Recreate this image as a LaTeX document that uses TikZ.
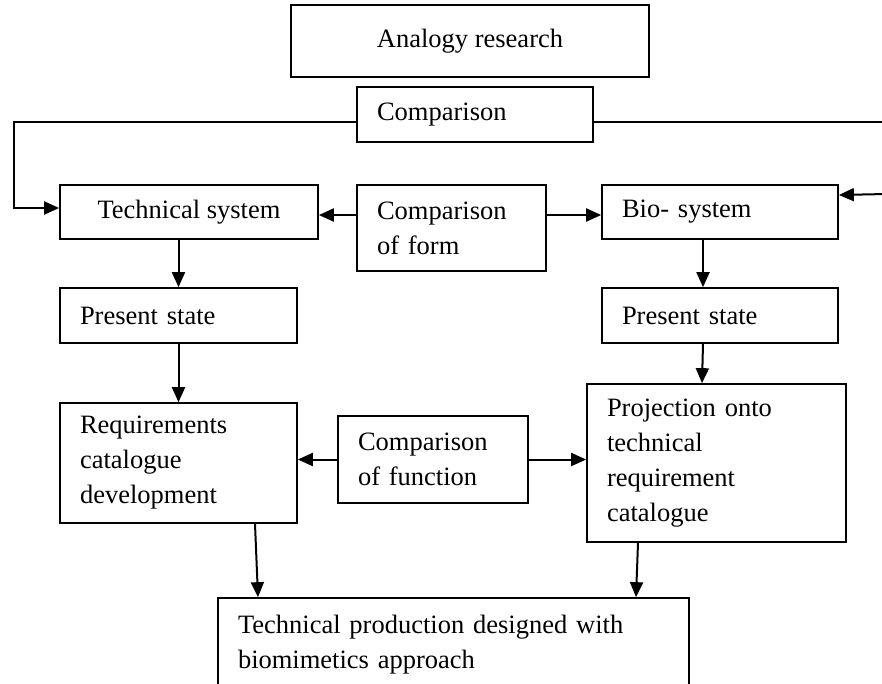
\documentclass[tikz,border=0pt]{standalone}
\usepackage{fontspec}
\setmainfont{Liberation Serif}
\usetikzlibrary{arrows.meta}
\begin{document}
\begin{tikzpicture}[x=1pt,y=-1pt,
  box/.style={draw, fill=white, line width=1.7pt, inner xsep=20pt, inner ysep=4pt,
    font=\fontsize{26.5}{35}\selectfont},
  lbox/.style={box, align=left},
  cbox/.style={box, align=center},
  conn/.style={line width=2pt},
  arr/.style={conn, -{Triangle[length=15pt,width=13pt]}}]
\useasboundingbox (0,0) rectangle (882,683);
% boxes
\node[cbox, minimum width=358pt, minimum height=72pt] (ana) at (470,41) {Analogy research};
\node[lbox, text width=196pt, minimum height=55pt] (cmp) at (475,114.5) {Comparison};
\node[cbox, minimum width=258pt, minimum height=54pt] (tech) at (189,212) {Technical system};
\node[lbox, text width=149pt, minimum height=86pt] (form) at (451.5,228) {Comparison\\of form};
\node[lbox, text width=196pt, minimum height=54pt] (bio) at (720,212) {Bio- system};
\node[lbox, text width=197pt, minimum height=55pt] (ps1) at (178.5,315.5) {Present state};
\node[lbox, text width=196pt, minimum height=55pt] (ps2) at (720,315.5) {Present state};
\node[lbox, text width=197pt, minimum height=120pt] (req) at (178.5,463) {Requirements\\catalogue\\development};
\node[lbox, text width=150pt, minimum height=87pt] (func) at (433,459.5) {Comparison\\of function};
\node[lbox, text width=219pt, minimum height=158pt] (proj) at (716.5,463) {Projection onto\\technical\\requirement\\catalogue};
\node[lbox, text width=431pt, minimum height=93pt] (prod) at (453.5,644.5) {Technical production designed with\\biomimetics approach};
% free ends
\coordinate (lc) at (14,122);
\coordinate (rc) at (886,122);
\coordinate (re) at (886,194);
% connectors
\draw[arr] ([yshift=-7.5pt]cmp.west) -- (lc) |- ([yshift=4pt]tech.west);
\draw[conn] ([yshift=-7.5pt]cmp.east) -- (rc);
\draw[arr] (re) -- ([yshift=17pt]bio.east);
\draw[arr] ([yshift=13pt]form.west) -- ([yshift=-3pt]tech.east);
\draw[arr] ([yshift=13pt]form.east) -- ([yshift=-3pt]bio.west);
\draw[arr] (ps1.north |- tech.south) -- (ps1.north);
\draw[arr] (ps1.south) -- (req.north);
\draw[arr] ([xshift=-17pt]bio.south) -- ([xshift=-17pt]ps2.north);
\draw[arr] ([xshift=-17pt]ps2.south) -- ([xshift=-14.5pt]proj.north);
\draw[arr] (func.west) -- (req.east |- func.west);
\draw[arr] (func.east) -- (proj.west |- func.east);
\draw[arr] ([xshift=76.5pt]req.south) -- ([xshift=-195.5pt]prod.north);
\draw[arr] ([xshift=-78.5pt]proj.south) -- ([xshift=182.5pt]prod.north);
\end{tikzpicture}
\end{document}
